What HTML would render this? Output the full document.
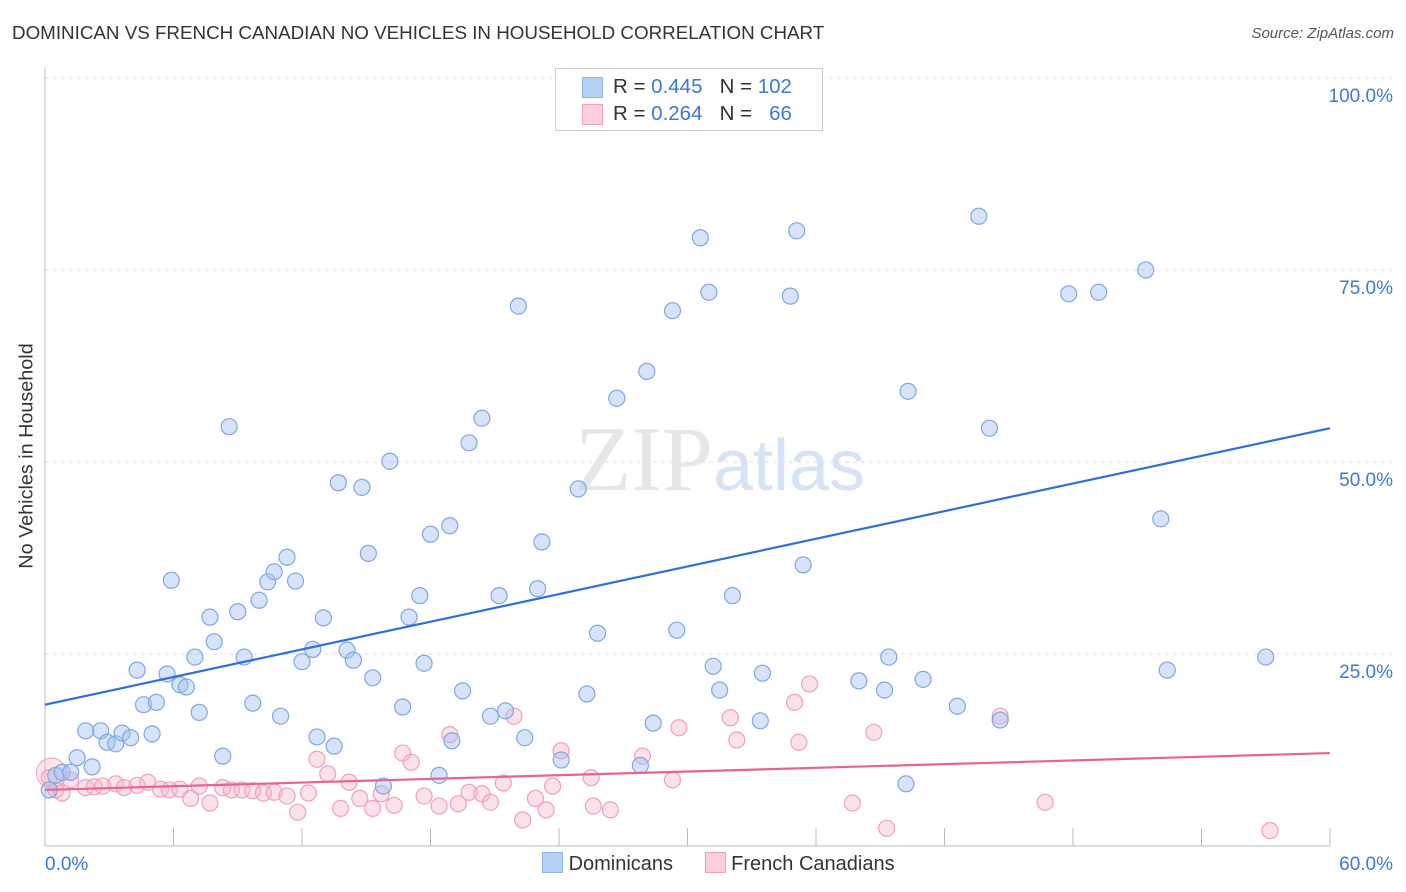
<!DOCTYPE html>
<html><head><meta charset="utf-8"><style>
body{margin:0;background:#fff;font-family:"Liberation Sans",sans-serif;}
#wrap{position:relative;width:1406px;height:892px;overflow:hidden;}
.t{position:absolute;white-space:nowrap;}
</style></head><body>
<div id="wrap">
<div class="t" style="left:12px;top:22px;font-size:18.8px;color:#333;">DOMINICAN VS FRENCH CANADIAN NO VEHICLES IN HOUSEHOLD CORRELATION CHART</div>
<div class="t" style="right:12px;top:25px;font-size:15px;color:#555;font-style:italic;">Source: ZipAtlas.com</div>
<div class="t" style="left:27px;top:456px;font-size:19.8px;color:#333;transform:translate(-50%,-50%) rotate(-90deg);">No Vehicles in Household</div>
<svg id="plot" width="1406" height="892" style="position:absolute;left:0;top:0"></svg>
<div style="position:absolute;left:555px;top:68px;width:266px;height:61px;border:1px solid #ccc;background:#fff;font-size:20.5px;">
 <div style="position:absolute;left:26px;top:8px;width:19px;height:19px;background:#b7d0f5;border:1px solid #8fb3e8"></div>
 <div class="t" style="left:57px;top:6px;color:#333">R = <span style="color:#3b78d8">0.445</span>&nbsp;&nbsp;&nbsp;N = <span style="color:#3b78d8">102</span></div>
 <div style="position:absolute;left:26px;top:35px;width:19px;height:19px;background:#fbd0dc;border:1px solid #f0a0bb"></div>
 <div class="t" style="left:57px;top:33px;color:#333">R = <span style="color:#3b78d8">0.264</span>&nbsp;&nbsp;&nbsp;N = &nbsp;&nbsp;<span style="color:#3b78d8">66</span></div>
</div>
<div style="position:absolute;left:542px;top:852px;font-size:20px;color:#333;">
 <span style="display:inline-block;width:19px;height:19px;background:#b7d0f5;border:1px solid #8fb3e8;vertical-align:-3px"></span> <span>Dominicans</span>
 <span style="display:inline-block;width:19px;height:19px;background:#fbd0dc;border:1px solid #f0a0bb;vertical-align:-3px;margin-left:26px"></span> <span>French Canadians</span>
</div>
</div>
<script>
const xTicks=[0,6,12,18,24,30,36,42,48,54,60];
const yTicks=[25,50,75,100];
const yTickLabels=["25.0%","50.0%","75.0%","100.0%"];
const xEndLabels=["0.0%","60.0%"];
const blueX=[0.5,0.8,1.2,1.5,2.2,1.9,2.6,2.9,3.3,3.6,4.0,5.0,4.3,4.6,5.2,5.7,5.9,6.3,6.6,7.0,7.2,7.7,7.9,8.3,8.6,9.0,9.3,9.7,10.0,10.4,10.7,11.0,11.3,11.7,12.0,12.5,12.7,13.0,13.5,13.7,14.1,14.4,14.8,15.1,15.3,15.8,16.1,16.7,17.0,17.5,17.7,18.0,18.4,18.9,19.0,19.5,19.8,20.4,20.8,21.2,21.5,22.1,22.4,23.0,23.2,24.1,24.9,25.3,25.8,26.7,27.8,28.1,28.4,29.3,29.5,30.6,31.0,31.2,31.5,32.1,33.4,33.5,34.8,35.1,35.4,38.0,39.2,39.4,40.3,41.0,42.6,43.6,44.1,44.6,47.8,49.2,51.4,52.1,52.4,57.0,40.2,0.2];
const blueY=[9.2,9.6,9.6,11.5,10.3,15.0,15.0,13.5,13.3,14.7,14.1,14.6,22.9,18.4,18.7,22.4,34.6,21.0,20.7,24.6,17.4,29.8,26.6,11.7,54.6,30.5,24.6,18.6,32.0,34.4,35.7,16.9,37.6,34.5,24.0,25.6,14.2,29.7,13.0,47.3,25.5,24.2,46.7,38.1,21.9,7.8,50.1,18.1,29.8,32.6,23.8,40.6,9.2,41.7,13.7,20.2,52.5,55.7,16.9,32.6,17.6,70.3,14.1,33.5,39.6,11.2,46.5,19.8,27.7,58.3,10.5,61.8,16.0,69.7,28.1,79.2,72.1,23.4,20.3,32.6,16.3,22.5,71.6,80.1,36.6,21.5,20.3,24.6,59.2,21.7,18.2,82.0,54.4,16.4,71.9,72.1,75.0,42.6,22.9,24.6,8.1,7.3];
const pinkX=[0.2,0.5,0.8,1.2,1.9,2.3,2.7,3.3,3.7,4.3,4.8,5.4,5.8,6.3,6.8,7.2,7.7,8.3,8.7,9.2,9.7,10.2,10.7,11.3,11.8,12.3,12.7,13.2,13.8,14.2,14.7,15.3,15.7,16.3,16.7,17.1,17.7,18.4,18.9,19.3,19.8,20.4,20.8,21.4,21.9,22.3,22.9,23.4,23.7,24.1,25.5,25.6,26.4,27.9,29.3,29.6,32.0,32.3,35.0,35.2,35.7,37.7,38.7,39.3,44.6,46.7,57.2];
const pinkY=[8.9,7.3,6.9,8.6,7.6,7.7,7.8,8.1,7.6,7.9,8.3,7.4,7.3,7.4,6.2,7.8,5.6,7.6,7.3,7.3,7.2,6.9,7.0,6.5,4.4,6.9,11.3,9.4,4.9,8.3,6.2,4.9,6.8,5.3,12.1,10.9,6.5,5.2,14.5,5.5,7.0,6.8,5.7,8.2,16.9,3.4,6.2,4.7,7.8,12.4,8.9,5.2,4.7,11.7,8.6,15.4,16.7,13.8,18.7,13.5,21.1,5.6,14.8,2.3,16.9,5.7,2.0];
const blueTrend=[18.4,54.4];
const pinkTrend=[7.3,12.1];
const X0=45,X1=1330,Y0=846,Y100=78;
const sx=v=>X0+(X1-X0)*v/60, sy=v=>Y0-(Y0-Y100)*v/100;
const svg=document.getElementById('plot');const NS='http://www.w3.org/2000/svg';
function mk(tag,attrs,parent){const e=document.createElementNS(NS,tag);for(const k in attrs)e.setAttribute(k,attrs[k]);(parent||svg).appendChild(e);return e;}
yTicks.forEach((t,i)=>{
 const g=mk('line',{x1:X0,x2:1395,y1:sy(t),y2:sy(t),stroke:'#ddd','stroke-dasharray':'4,4'});
 
 
 const tx=mk('text',{x:1393,y:sy(t)+24,'text-anchor':'end','font-size':19,fill:'#3b78d8','font-family':'Liberation Sans'});
 tx.textContent=yTickLabels[i];
 
 
});
const ax=mk('line',{x1:X0,x2:X0,y1:68,y2:Y0,stroke:'#bbb'});


const bx=mk('line',{x1:X0,x2:X1,y1:Y0,y2:Y0,stroke:'#bbb'});


xTicks.forEach(t=>{const l=mk('line',{x1:sx(t),x2:sx(t),y1:828,y2:Y0,stroke:'#bbb'});
 
 });
[[0,45,'start'],[1,1393,'end']].forEach(([i,x,a])=>{const tx=mk('text',{x:x,y:870,'text-anchor':a,'font-size':19,fill:'#3b78d8','font-family':'Liberation Sans'});tx.textContent=xEndLabels[i];
 
 });
const wm=mk('text',{x:720,y:490,'text-anchor':'middle','font-size':92,fill:'#e6e6e6','font-family':'Liberation Serif'});
wm.innerHTML='ZIP<tspan fill="#d6e3f5" font-family="Liberation Sans" font-size="72">atlas</tspan>';


const big=mk('circle',{cx:sx(0.3),cy:sy(9.5),r:15,fill:'rgba(245,180,200,0.35)',stroke:'#f0a0bb'});


pinkX.forEach((x,i)=>{const c=mk('circle',{cx:sx(x),cy:sy(pinkY[i]),r:8,fill:'rgba(245,180,200,0.4)',stroke:'#f0a0bb','stroke-width':1.2});
 
 });
blueX.forEach((x,i)=>{const c=mk('circle',{cx:sx(x),cy:sy(blueY[i]),r:8,fill:'rgba(164,194,240,0.45)',stroke:'#7fa7e0','stroke-width':1.2});
 
 });
const bt=mk('line',{x1:sx(0),x2:sx(60),y1:sy(blueTrend[0]),y2:sy(blueTrend[1]),stroke:'#2f6fd6','stroke-width':2.2});


const pt=mk('line',{x1:sx(0),x2:sx(60),y1:sy(pinkTrend[0]),y2:sy(pinkTrend[1]),stroke:'#e8638f','stroke-width':2.2});


</script>
</body></html>
